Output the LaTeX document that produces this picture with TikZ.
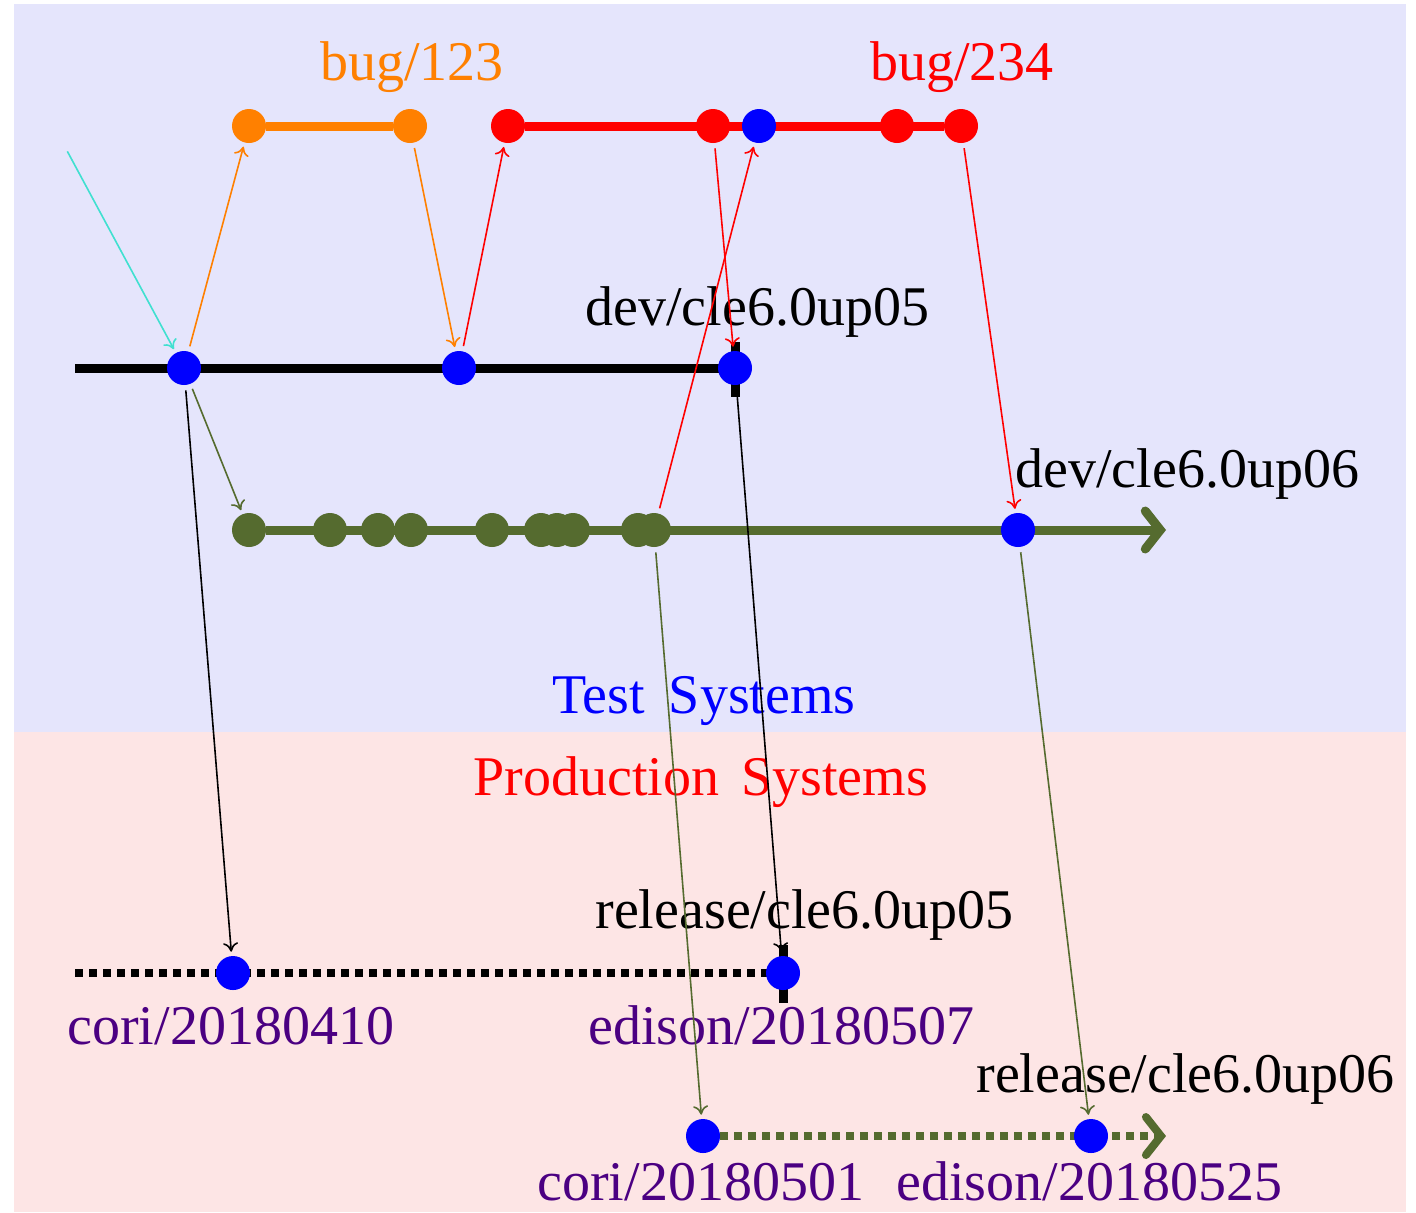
\documentclass[tikz,border=0pt]{standalone}
\usepackage{fontspec}
\setmainfont{Liberation Serif}
\usetikzlibrary{arrows.meta}
\pgfdeclarelayer{bg}
\pgfdeclarelayer{branch}
\pgfsetlayers{bg,branch,main}
\definecolor{testbg}{RGB}{229,229,252}
\definecolor{prodbg}{RGB}{253,229,229}
\definecolor{bugorange}{RGB}{255,128,0}
\definecolor{devolive}{RGB}{85,107,47}
\definecolor{seedcyan}{RGB}{64,224,208}
\definecolor{tagpurple}{RGB}{75,0,130}
\tikzset{
  commit/.style={circle, inner sep=0pt, minimum size=17pt, fill=#1},
  branchline/.style={line width=4.5pt},
  headtip/.style={-{Straight Barb[length=7.5pt,width=19pt,line cap=round]}},
  dotline/.style={line width=4pt, dash pattern=on 3.75pt off 3.25pt},
  tagmark/.style={line width=4.5pt},
  merge/.style={line width=0.8pt, -{To[length=4.5pt,width=7.5pt]}, shorten <=2.5pt, shorten >=2pt},
  lbl/.style={anchor=base west, inner sep=0pt, font=\fontsize{28pt}{32pt}\selectfont}
}
\begin{document}
\begin{tikzpicture}[x=0.5pt, y=-0.5pt]
\useasboundingbox (0,0) rectangle (1416,1212);

% environment backgrounds
\begin{pgfonlayer}{bg}
  \fill[testbg] (14,4) rectangle (1406,732);
  \fill[prodbg] (14,732) rectangle (1406,1212);
\end{pgfonlayer}

% commits on bug/123
\node[commit=bugorange] (o1) at (249,126) {};
\node[commit=bugorange] (o2) at (410,126) {};
% commits on bug/234
\node[commit=red] (r1) at (508,126) {};
\node[commit=red] (r2) at (713,126) {};
\node[commit=blue] (b1) at (759,126) {};
\node[commit=red] (r3) at (897,126) {};
\node[commit=red] (r4) at (961,126) {};
% commits on dev/cle6.0up05
\node[commit=blue] (m1) at (184,368) {};
\node[commit=blue] (m2) at (459,368) {};
\node[commit=blue] (m3) at (735,368) {};
% commits on dev/cle6.0up06
\node[commit=devolive] (g0) at (249,530) {};
\node[commit=devolive] (g1) at (330,530) {};
\node[commit=devolive] (g2) at (378,530) {};
\node[commit=devolive] (g3) at (411,530) {};
\node[commit=devolive] (g4) at (492,530) {};
\node[commit=devolive] (g5) at (541,530) {};
\node[commit=devolive] (g6) at (557,530) {};
\node[commit=devolive] (g7) at (573,530) {};
\node[commit=devolive] (g8) at (638,530) {};
\node[commit=devolive] (g9) at (654,530) {};
\node[commit=blue] (gb) at (1018,530) {};
% production commits
\node[commit=blue] (p1) at (233,973) {};
\node[commit=blue] (p2) at (783,973) {};
\node[commit=blue] (q1) at (703,1136) {};
\node[commit=blue] (q2) at (1091,1136) {};

% free ends of branch lines
\coordinate (devstart) at (75,368);
\coordinate (prodstart) at (75,973);
\coordinate (devend) at (1166,530);
\coordinate (relend) at (1166,1136);
\coordinate (seedstart) at (65,147);

% branch lines and tag marks
\begin{pgfonlayer}{branch}
  \draw[branchline, bugorange] (o1) -- (o2);
  \draw[branchline, red] (r1) -- (r4);
  \draw[branchline, black] (devstart) -- (m3.center);
  \draw[tagmark] ([yshift=13pt]m3.center) -- ([yshift=-14.5pt]m3.center);
  \draw[tagmark] ([yshift=14pt]p2.center) -- ([yshift=-15pt]p2.center);
  \draw[branchline, headtip, devolive] (g0) -- (devend);
  \draw[dotline, black] (prodstart) -- (p2.center);
  \draw[dotline, devolive, headtip] (q1) -- (relend);
\end{pgfonlayer}

% labels
\node[lbl, bugorange] (lb1) at (320,80) {bug/123};
\node[lbl, red] (lb2) at (870,80) {bug/234};
\node[lbl] (ld5) at (585,325) {dev/cle6.0up05};
\node[lbl] (ld6) at (1015,487) {dev/cle6.0up06};
\node[lbl, blue] (ltest) at (552,713) {Test\hspace{12pt}Systems};
\node[lbl, red] (lprod) at (473,795) {Production\hspace{11pt}Systems};
\node[lbl] (lr5) at (595,928) {release/cle6.0up05};
\node[lbl, tagpurple] (lc1) at (67,1044) {cori/20180410};
\node[lbl, tagpurple] (le1) at (588,1044) {edison/20180507};
\node[lbl] (lr6) at (976,1092) {release/cle6.0up06};
\node[lbl, tagpurple] (lc2) at (537,1200) {cori/20180501};
\node[lbl, tagpurple] (le2) at (896,1200) {edison/20180525};

% merges and cherry-picks
\draw[merge, seedcyan] (seedstart) -- (m1);
\draw[merge, bugorange] (m1) -- (o1);
\draw[merge, bugorange] (o2) -- (m2);
\draw[merge, red] (m2) -- (r1);
\draw[merge, red] (r2) -- (m3);
\draw[merge, red] (g9) -- (b1);
\draw[merge, red] (r4) -- (gb);
\draw[merge, devolive] (m1) -- (g0);
\draw[merge, black] (m1) -- (p1);
\draw[merge, black] (m3) -- (p2);
\draw[merge, devolive] (g9) -- (q1);
\draw[merge, devolive] (gb) -- (q2);
\end{tikzpicture}
\end{document}
